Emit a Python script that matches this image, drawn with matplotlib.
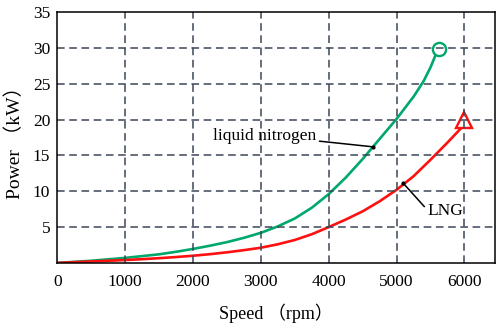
import matplotlib.pyplot as plt

# values
speed_ln = [0, 250, 500, 750, 1000, 1250, 1500, 1750, 2000, 2250, 2500, 2750, 3000,
            3250, 3500, 3750, 4000, 4250, 4500, 4750, 5000, 5250, 5400, 5500, 5600]
power_ln = [0, 0.15, 0.3, 0.5, 0.7, 0.95, 1.2, 1.55, 1.95, 2.4, 2.9, 3.5, 4.2,
            5.1, 6.2, 7.7, 9.6, 11.9, 14.5, 17.3, 20.1, 23.2, 25.4, 27.3, 29.6]
speed_lng = [0, 250, 500, 750, 1000, 1250, 1500, 1750, 2000, 2250, 2500, 2750, 3000,
             3250, 3500, 3750, 4000, 4250, 4500, 4750, 5000, 5250, 5500, 5750, 6000]
power_lng = [0, 0.1, 0.2, 0.3, 0.4, 0.52, 0.66, 0.82, 1.0, 1.22, 1.48, 1.78, 2.12,
             2.6, 3.2, 4.0, 5.0, 6.05, 7.2, 8.6, 10.2, 12.1, 14.4, 16.8, 19.3]
xticks = [0, 1000, 2000, 3000, 4000, 5000, 6000]
yticks = [5, 10, 15, 20, 25, 30, 35]

fonts = ['Liberation Serif', 'Noto Sans CJK SC']
plt.rcParams['font.family'] = fonts

fig = plt.figure(figsize=(4.98, 3.27), dpi=100)
ax = fig.add_axes([0.115, 0.196, 0.879, 0.767])

green = '#00a86b'
red = '#ff1010'
ax.plot(speed_ln, power_ln, color=green, lw=1.9)
ax.plot(5630, 29.9, 'o', ms=9.5, mfc='white', mec=green, mew=1.7)
ax.plot(speed_lng, power_lng, color=red, lw=1.9)
ax.plot(6000, 20, '^', ms=12, mfc='white', mec=red, mew=1.7)

ax.set_xlim(0, 6450)
ax.set_ylim(0, 35)
ax.set_xticks(xticks)
ax.set_yticks(yticks)
ax.tick_params(length=0, labelsize=12.5)
ax.tick_params(axis='y', pad=5)
ax.tick_params(axis='x', pad=8)
for sp in ax.spines.values():
    sp.set_linewidth(1.1)

for x in xticks[1:]:
    ax.axvline(x, color='#3b4656', lw=1.1, ls=(0, (5, 3)))
for y in yticks[:-1]:
    ax.axhline(y, color='#3b4656', lw=1.1, ls=(0, (5, 3)))

ax.annotate('liquid nitrogen', xy=(4650, 16.2), xytext=(2300, 17.7),
            fontsize=12.5, ha='left', va='center',
            arrowprops=dict(arrowstyle='-', color='black', lw=1.1, shrinkA=0, shrinkB=0,
                            relpos=(1, 0.2)))
ax.plot(4650, 16.2, 'k.', ms=4)
ax.annotate('LNG', xy=(5090, 11.2), xytext=(5450, 7.2),
            fontsize=12.5, ha='left', va='center',
            arrowprops=dict(arrowstyle='-', color='black', lw=1.1, shrinkA=0, shrinkB=0,
                            relpos=(0, 0.6)))
ax.plot(5090, 11.2, 'k.', ms=4)

ax.set_xlabel('Speed （rpm）', fontsize=13, labelpad=10)
ax.set_ylabel('Power （kW）', fontsize=14, labelpad=6)

fig.savefig('out.png', dpi=100)
